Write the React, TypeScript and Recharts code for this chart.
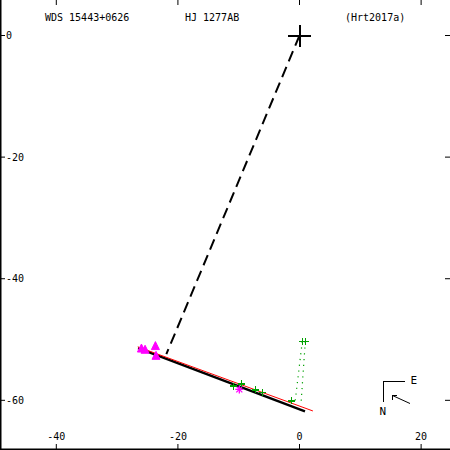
import React from 'react';
import { ComposedChart, Scatter, XAxis, YAxis, Customized } from 'recharts';

// axis ranges / ticks
const xDomain = [-49.26, 24.75];
const yDomain = [-68.17, 5.84];
const xTicks = [-40, -20, 0, 20];
const yTicks = [-60, -40, -20, 0];

// header texts
const wdsName = 'WDS 15443+0626';
const discName = 'HJ 1277AB';
const orbitRef = '(Hrt2017a)';

// primary star and orbit geometry
const primaryPos = [{ x: 0, y: 0 }];
const nodeLine = [{ x: 0, y: 0 }, { x: -21.9, y: -52.4 }];
const orbitPath = [{ x: -26.55, y: -51.4 }, { x: 0.9, y: -61.8 }];
const prevOrbit = [{ x: -26.6, y: -51.2 }, { x: 2.2, y: -61.75 }];

// observations
const triangleObs = [
  { x: -26.0, y: -51.4 },
  { x: -25.4, y: -51.6 },
  { x: -23.7, y: -51.0 },
  { x: -23.6, y: -52.6 },
];
const asteriskObs = [{ x: -9.9, y: -58.2 }];
const crossObs = [
  { x: -10.9, y: -57.65 },
  { x: -9.6, y: -57.3 },
  { x: -7.3, y: -58.3 },
  { x: -6.1, y: -58.7 },
  { x: -1.3, y: -60.1 },
  { x: 0.45, y: -50.35 },
  { x: 0.95, y: -50.35 },
];
// O-C residual lines
const residA = [{ x: 0.45, y: -50.35 }, { x: -0.7, y: -60.0 }];
const residB = [{ x: 0.95, y: -50.35 }, { x: 0.25, y: -60.5 }];

const GREEN = '#00a000';
const MAGENTA = '#ff00ff';
const FONT = '"DejaVu Sans Mono", monospace';

const NoMark = () => <g />;
const NoTick = () => <g />;

const BigCross = (p: any) => {
  const { cx, cy } = p;
  return (
    <g stroke="#000" strokeWidth={2} shapeRendering="crispEdges">
      <line x1={cx - 11.5} y1={cy} x2={cx + 11.5} y2={cy} />
      <line x1={cx} y1={cy - 11} x2={cx} y2={cy + 11} />
    </g>
  );
};

const GreenCross = (p: any) => {
  const { cx, cy } = p;
  return (
    <g stroke={GREEN} strokeWidth={1.2} shapeRendering="crispEdges">
      <line x1={cx - 3.5} y1={cy} x2={cx + 3.5} y2={cy} />
      <line x1={cx} y1={cy - 3.5} x2={cx} y2={cy + 3.5} />
    </g>
  );
};

const Triangle = (p: any) => {
  const { cx, cy } = p;
  return (
    <polygon
      points={`${cx},${cy - 4} ${cx + 4},${cy + 4} ${cx - 4},${cy + 4}`}
      fill={MAGENTA}
      stroke={MAGENTA}
    />
  );
};

const Asterisk = (p: any) => {
  const { cx, cy } = p;
  const r = 4;
  const d = 3;
  return (
    <g stroke={MAGENTA} strokeWidth={1.3}>
      <line x1={cx - r} y1={cy} x2={cx + r} y2={cy} />
      <line x1={cx} y1={cy - r} x2={cx} y2={cy + r} />
      <line x1={cx - d} y1={cy - d} x2={cx + d} y2={cy + d} />
      <line x1={cx - d} y1={cy + d} x2={cx + d} y2={cy - d} />
    </g>
  );
};

const Header = () => (
  <g fontFamily={FONT} fontSize={10} fill="#000">
    <text x={45} y={21}>{wdsName}</text>
    <text x={185} y={21}>{discName}</text>
    <text x={345} y={21}>{orbitRef}</text>
  </g>
);

// orientation indicator in the lower right corner
const Compass = () => (
  <g stroke="#000" strokeWidth={1} fill="none" shapeRendering="crispEdges">
    <polyline points="405,381.5 383.5,381.5 383.5,402" />
    <line x1={410} y1={403.5} x2={392.5} y2={395.5} shapeRendering="auto" />
    <polyline points="397,395.5 392.5,395.5 392.5,400" />
    <text x={410.5} y={384} stroke="none" fill="#000" fontFamily={FONT} fontSize={11}>E</text>
    <text x={379.5} y={415} stroke="none" fill="#000" fontFamily={FONT} fontSize={11}>N</text>
  </g>
);

const tickStyle = { fontSize: 10, fontFamily: FONT, fill: '#000' };

export default function App() {
  return (
    <div style={{ position: 'absolute', left: 0, top: 0, background: '#fff' }}>
      <ComposedChart width={450} height={450} margin={{ top: 0, right: 0, bottom: 0, left: 0 }}>
        <XAxis
          xAxisId="b"
          type="number"
          dataKey="x"
          domain={xDomain}
          ticks={xTicks}
          allowDataOverflow
          interval={0}
          orientation="bottom"
          mirror
          tickSize={6}
          tickMargin={4}
          tick={tickStyle}
          tickLine={{ stroke: '#000' }}
          axisLine={{ stroke: '#000', strokeWidth: 3 }}
        />
        <XAxis
          xAxisId="t"
          type="number"
          dataKey="x"
          domain={xDomain}
          ticks={xTicks}
          allowDataOverflow
          interval={0}
          orientation="top"
          mirror
          tickSize={5}
          tick={NoTick}
          tickLine={{ stroke: '#000' }}
          axisLine={false}
        />
        <YAxis
          yAxisId="l"
          type="number"
          dataKey="y"
          domain={yDomain}
          ticks={yTicks}
          allowDataOverflow
          interval={0}
          orientation="left"
          mirror
          tickSize={5}
          tickMargin={1}
          tick={tickStyle}
          tickLine={{ stroke: '#000' }}
          axisLine={{ stroke: '#000', strokeWidth: 3 }}
        />
        <YAxis
          yAxisId="r"
          type="number"
          dataKey="y"
          domain={yDomain}
          ticks={yTicks}
          allowDataOverflow
          interval={0}
          orientation="right"
          mirror
          tickSize={5}
          tick={NoTick}
          tickLine={{ stroke: '#000' }}
          axisLine={false}
        />

        <Scatter xAxisId="b" yAxisId="l" data={nodeLine} line={{ stroke: '#000', strokeWidth: 2, strokeDasharray: '11 6' }} shape={NoMark} isAnimationActive={false} />
        <Scatter xAxisId="b" yAxisId="l" data={orbitPath} line={{ stroke: '#000', strokeWidth: 2.4 }} shape={NoMark} isAnimationActive={false} />
        <Scatter xAxisId="b" yAxisId="l" data={prevOrbit} line={{ stroke: '#ff0000', strokeWidth: 1 }} shape={NoMark} isAnimationActive={false} />
        <Scatter xAxisId="b" yAxisId="l" data={residA} line={{ stroke: GREEN, strokeWidth: 1.2, strokeDasharray: '1.2 4.6' }} shape={NoMark} isAnimationActive={false} />
        <Scatter xAxisId="b" yAxisId="l" data={residB} line={{ stroke: GREEN, strokeWidth: 1.2, strokeDasharray: '1.2 4.6' }} shape={NoMark} isAnimationActive={false} />

        <Scatter xAxisId="b" yAxisId="l" data={triangleObs} shape={Triangle} isAnimationActive={false} />
        <Scatter xAxisId="b" yAxisId="l" data={asteriskObs} shape={Asterisk} isAnimationActive={false} />
        <Scatter xAxisId="b" yAxisId="l" data={crossObs} shape={GreenCross} isAnimationActive={false} />
        <Scatter xAxisId="b" yAxisId="l" data={primaryPos} shape={BigCross} isAnimationActive={false} />

        <Customized component={Header} />
        <Customized component={Compass} />
      </ComposedChart>
    </div>
  );
}
